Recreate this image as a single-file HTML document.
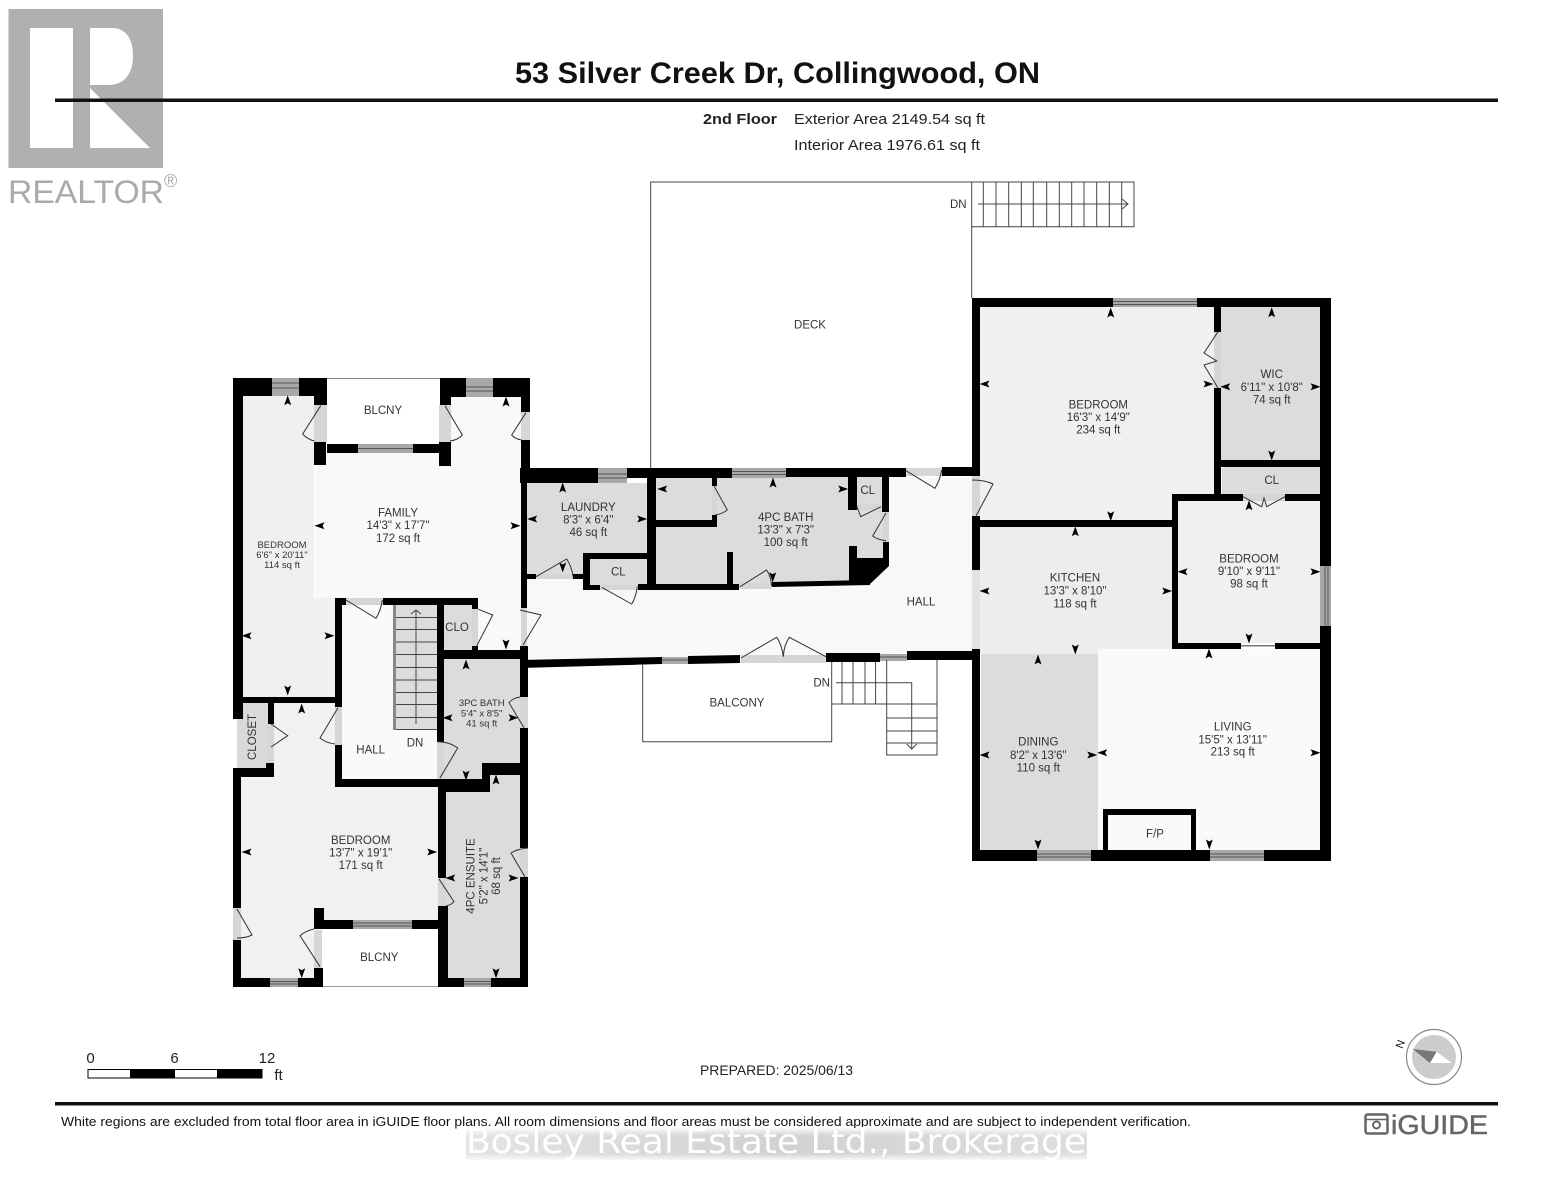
<!DOCTYPE html>
<html><head><meta charset="utf-8"><style>
html,body{margin:0;padding:0;background:#fff}
svg{display:block;filter:blur(.35px)}
text{font-family:"Liberation Sans",sans-serif}
.l text,.l{fill:#333;font-size:11.5px;text-anchor:middle}
.s text{font-size:9.5px}
.k{fill:#000}
.g{fill:#d6d6d6}
.w{fill:#a8a8a8}
.wl{stroke:#555;stroke-width:1;fill:none}
.d{fill:none;stroke:#333;stroke-width:1}
.t{fill:none;stroke:#444;stroke-width:1}
.a{fill:#000}
</style></head><body>
<svg xmlns="http://www.w3.org/2000/svg" width="1553" height="1200" viewBox="0 0 1553 1200">
<defs>
<linearGradient id="bh" x1="0" x2="1" y1="0" y2="0"><stop offset="0" stop-color="#e4e4e4"/><stop offset=".5" stop-color="#d2d2d2"/><stop offset="1" stop-color="#dedede"/></linearGradient>
<linearGradient id="bv" x1="0" x2="0" y1="0" y2="1"><stop offset="0" stop-color="#fff" stop-opacity=".9"/><stop offset=".25" stop-color="#fff" stop-opacity="0"/><stop offset=".8" stop-color="#fff" stop-opacity="0"/><stop offset="1" stop-color="#fff" stop-opacity=".8"/></linearGradient>
<path id="u" class="a" d="M0,-5.5 L3.5,4.5 L0,2.5 L-3.5,4.5 Z"/>
<path id="n" class="a" d="M0,5.5 L3.5,-4.5 L0,-2.5 L-3.5,-4.5 Z"/>
<path id="e" class="a" d="M5.5,0 L-4.5,3.5 L-2.5,0 L-4.5,-3.5 Z"/>
<path id="o" class="a" d="M-5.5,0 L4.5,3.5 L2.5,0 L4.5,-3.5 Z"/>
</defs>

<!-- REALTOR logo -->
<rect x="8.5" y="9" width="154.5" height="159" fill="#b0b0b0"/>
<rect x="30" y="28" width="43" height="120" fill="#fff"/>
<path fill="#fff" d="M90,28 H112 C128,28 133,42 133,56 C133,74 124,85 108,85 H90 Z"/>
<path fill="#fff" d="M90,88 L150,148 H90 Z"/>
<text x="8" y="203" font-size="32" fill="#aaa" textLength="156" lengthAdjust="spacingAndGlyphs">REALTOR</text>
<text x="164" y="187" font-size="18" fill="#aaa">®</text>

<!-- Header -->
<rect x="55" y="98.5" width="1443" height="3.5" fill="#111"/>
<text x="515" y="83" font-size="30" font-weight="700" fill="#111" textLength="525" lengthAdjust="spacingAndGlyphs">53 Silver Creek Dr, Collingwood, ON</text>
<text x="703" y="124" font-size="15" font-weight="700" fill="#222" textLength="74" lengthAdjust="spacingAndGlyphs">2nd Floor</text>
<text x="794" y="124" font-size="15" fill="#222" textLength="191" lengthAdjust="spacingAndGlyphs">Exterior Area 2149.54 sq ft</text>
<text x="794" y="150" font-size="15" fill="#222" textLength="186" lengthAdjust="spacingAndGlyphs">Interior Area 1976.61 sq ft</text>

<!-- Room fills -->
<polygon fill="#f0f0f0" points="243,396 314,396 314,598 335,598 335,697 243,697"/>
<polygon fill="#f9f9f9" points="327,453 440,453 440,397 521,397 521,650 478,650 478,598 315,598 315,453"/>
<rect x="342" y="605" width="95" height="174" fill="#fafafa"/>
<rect x="444" y="605" width="34" height="45" fill="#dcdcdc"/>
<rect x="442" y="658" width="78" height="121" fill="#dcdcdc"/>
<rect x="446" y="775" width="74" height="203" fill="#dcdcdc"/>
<polygon fill="#f1f1f1" points="274,703 335,703 335,787 438,787 438,920 314,920 314,978 241,978 241,777 274,777"/>
<rect x="237" y="703" width="33" height="65" fill="#d9d9d9"/>
<polygon fill="#f8f8f8" points="527,579 583,579 583,590 733,590 870,584 889,566 889,477 972,477 972,652 826,655 527,662"/>
<polygon fill="#dcdcdc" points="527,483 647,483 647,575 527,575"/>
<rect x="590" y="559" width="60" height="26" fill="#dcdcdc"/>
<polygon fill="#dcdcdc" points="656,477 883,477 883,558 849,558 849,583 656,587"/>
<rect x="980" y="307" width="234" height="213" fill="#f0f0f0"/>
<rect x="1221" y="307" width="99" height="153" fill="#dcdcdc"/>
<rect x="1222" y="467" width="98" height="27" fill="#dcdcdc"/>
<rect x="1178" y="501" width="142" height="142" fill="#f0f0f0"/>
<rect x="980" y="527" width="192" height="127" fill="#ededed"/>
<rect x="1098" y="649" width="222" height="201" fill="#fafafa"/>
<rect x="981" y="654" width="117" height="196" fill="#dcdcdc"/>

<!-- Door thresholds -->
<g class="g">
<rect x="314" y="405" width="13" height="37"/><rect x="439" y="405" width="12" height="37"/>
<rect x="521" y="412" width="9" height="28"/><rect x="346" y="598" width="37" height="7"/>
<rect x="521" y="608" width="6" height="39"/><rect x="472" y="609" width="6" height="41"/>
<rect x="268" y="724" width="6" height="39"/><rect x="335" y="707" width="7" height="38"/>
<rect x="437" y="742" width="7" height="37"/><rect x="520" y="697" width="8" height="31"/>
<rect x="520" y="848" width="8" height="29"/><rect x="438" y="878" width="8" height="28"/>
<rect x="233" y="908" width="8" height="32"/><rect x="314" y="930" width="8" height="38"/>
<rect x="536" y="574" width="37" height="5"/><rect x="600" y="585" width="38" height="5"/>
<rect x="739" y="583" width="33" height="6"/><rect x="712" y="486" width="5" height="29"/>
<rect x="857" y="504" width="25" height="6"/><rect x="883" y="512" width="6" height="30"/>
<rect x="906" y="468" width="36" height="8"/><rect x="972" y="476" width="8" height="40"/>
<rect x="972" y="570" width="8" height="80" fill="#e2e2e2"/><rect x="741" y="655" width="85" height="8"/>
<rect x="1214" y="332" width="7" height="56"/><rect x="1243" y="494" width="42" height="7"/>
</g>

<!-- Stairs west -->
<rect x="393" y="605" width="44" height="125" fill="#dcdcdc"/>
<rect x="393" y="605" width="3" height="125" fill="#888"/>
<path class="t" d="M396,617.5H437M396,629.5H437M396,642H437M396,654.5H437M396,667.5H437M396,680H437M396,692.5H437M396,704.5H437M396,717.5H437M396,729.5H437"/>
<path class="t" d="M416,610V724M411,614L416,610L421,614"/>

<!-- Walls -->
<g class="k">
<rect x="233" y="378" width="39" height="18"/><rect x="233" y="378" width="10" height="341"/>
<rect x="299" y="378" width="28" height="18"/><rect x="314" y="378" width="13" height="27"/>
<rect x="314" y="442" width="12" height="23"/><rect x="327" y="444" width="31" height="9"/>
<rect x="413" y="444" width="27" height="9"/><rect x="439" y="442" width="12" height="24"/>
<rect x="440" y="378" width="26" height="19"/><rect x="440" y="378" width="11" height="27"/>
<rect x="493" y="378" width="37" height="19"/><rect x="521" y="378" width="9" height="34"/>
<rect x="521" y="440" width="9" height="33"/><rect x="521" y="473" width="6" height="135"/>
<rect x="520" y="468" width="78" height="15"/><rect x="627" y="468" width="105" height="10"/>
<rect x="786" y="468" width="120" height="9"/><rect x="942" y="467" width="38" height="9"/>
<rect x="647" y="478" width="9" height="112"/><rect x="583" y="553" width="66" height="6"/>
<rect x="583" y="553" width="7" height="37"/><rect x="590" y="585" width="10" height="5"/>
<rect x="527" y="574" width="9" height="5"/><rect x="573" y="574" width="10" height="5"/>
<rect x="638" y="584" width="101" height="6"/><rect x="656" y="520" width="61" height="7"/>
<rect x="712" y="515" width="5" height="12"/><rect x="712" y="478" width="5" height="8"/>
<rect x="727" y="552" width="6" height="32"/>
<rect x="848" y="476" width="9" height="34"/><rect x="882" y="476" width="7" height="36"/>
<rect x="883" y="542" width="6" height="24"/><rect x="849" y="546" width="8" height="14"/>
<polygon points="849,558 883,558 889,566 870,584 849,585"/>
<polygon points="772,582 870,580 870,585 772,587"/>
<rect x="520" y="646" width="8" height="22"/><rect x="520" y="661" width="8" height="36"/>
<polygon points="520,660 662,657 662,664 520,668"/>
<polygon points="688,656 740,655 740,663 688,664"/>
<rect x="826" y="653" width="54" height="9"/><rect x="907" y="651" width="73" height="9"/>
<rect x="520" y="728" width="8" height="120"/><rect x="520" y="877" width="8" height="110"/>
<rect x="336" y="598" width="10" height="7"/><rect x="383" y="598" width="95" height="7"/>
<rect x="472" y="598" width="6" height="11"/><rect x="335" y="598" width="7" height="109"/>
<rect x="335" y="745" width="7" height="42"/><rect x="437" y="605" width="7" height="137"/>
<rect x="444" y="650" width="82" height="9"/><rect x="472" y="646" width="6" height="6"/>
<rect x="335" y="779" width="155" height="8"/><rect x="438" y="779" width="52" height="13"/>
<rect x="482" y="763" width="8" height="29"/><rect x="482" y="763" width="38" height="12"/>
<rect x="438" y="787" width="8" height="91"/><rect x="438" y="906" width="10" height="81"/>
<rect x="448" y="978" width="16" height="9"/><rect x="491" y="978" width="37" height="9"/>
<rect x="233" y="697" width="104" height="6"/><rect x="268" y="703" width="6" height="21"/>
<rect x="266" y="763" width="8" height="14"/><rect x="233" y="768" width="41" height="9"/>
<rect x="233" y="768" width="8" height="140"/><rect x="233" y="940" width="8" height="47"/>
<rect x="233" y="978" width="37" height="9"/><rect x="298" y="978" width="25" height="9"/>
<rect x="314" y="968" width="9" height="19"/><rect x="314" y="908" width="10" height="21"/>
<rect x="324" y="920" width="29" height="9"/><rect x="412" y="920" width="26" height="9"/>
<!-- east block -->
<rect x="972" y="298" width="141" height="9"/><rect x="1197" y="298" width="134" height="9"/>
<rect x="972" y="298" width="8" height="178"/><rect x="972" y="516" width="8" height="54"/>
<rect x="972" y="649" width="8" height="212"/><rect x="1320" y="298" width="11" height="268"/>
<rect x="1320" y="626" width="11" height="235"/><rect x="980" y="520" width="198" height="7"/>
<rect x="1214" y="298" width="7" height="34"/><rect x="1214" y="388" width="7" height="107"/>
<rect x="1221" y="460" width="99" height="7"/><rect x="1172" y="494" width="71" height="7"/>
<rect x="1285" y="494" width="35" height="7"/><rect x="1172" y="494" width="6" height="155"/>
<rect x="1172" y="643" width="69" height="6"/><rect x="1275" y="643" width="45" height="6"/>
<rect x="972" y="850" width="65" height="11"/><rect x="1091" y="850" width="119" height="11"/>
<rect x="1264" y="850" width="67" height="11"/>
<path d="M1103,850V809H1196V850H1191V815H1108V850Z"/>
</g>
<rect x="1108" y="815" width="83" height="35" fill="#fafafa"/>
<rect x="327" y="378" width="113" height="1" fill="#888"/>
<rect x="323" y="986" width="115" height="1" fill="#999"/>

<!-- Windows -->
<g class="w">
<rect x="272" y="378" width="27" height="18"/><rect x="466" y="378" width="27" height="19"/>
<rect x="358" y="444" width="55" height="9"/><rect x="598" y="468" width="29" height="15"/>
<rect x="732" y="468" width="54" height="10"/><rect x="1113" y="298" width="84" height="9"/>
<rect x="1320" y="566" width="11" height="60"/><rect x="1037" y="850" width="54" height="11"/>
<rect x="1210" y="850" width="54" height="11"/><rect x="270" y="978" width="28" height="9"/>
<rect x="353" y="920" width="59" height="9"/><rect x="464" y="978" width="27" height="9"/>
<rect x="662" y="657" width="26" height="7"/><rect x="880" y="654" width="27" height="7"/>
</g>
<path class="wl" d="M272,383H299M272,388H299M466,387H493M466,391H493M358,448.5H413M598,474H627M598,478H627M732,471.5H786M732,474.5H786M1113,301.5H1197M1113,304.5H1197M1325,566V626M1328,566V626M1037,854H1091M1037,857H1091M1210,854H1264M1210,857H1264M270,981.5H298M270,984H298M353,923H412M353,926H412M464,981.5H491M464,984H491M662,660H688M880,657H907"/>
<rect x="1241" y="645" width="34" height="1.5" fill="#777"/>

<!-- Doors -->
<path class="d" d="M320.7,405.7L302.7,434Q307,439 314.3,441"/>
<path class="d" d="M445,405.7L462.3,435Q458,440 450,441"/>
<path class="d" d="M526,412.7L511.7,435Q515,439 521.7,440"/>
<path class="d" d="M346,600L376,618.3Q381,610 382.3,600"/>
<path class="d" d="M478.3,609.3L492.7,615L476.7,646"/>
<path class="d" d="M520,610L541,615L523,645"/>
<path class="d" d="M271,724L287.7,735.7L271,747"/>
<path class="d" d="M338,707.7L320,738Q326,743 335,744"/>
<path class="d" d="M438,741.7Q450,742 457.7,748L440,778"/>
<path class="d" d="M520,697Q513,698 509,702.7L524,727.7"/>
<path class="d" d="M528,848Q517,849 511,853L525,877"/>
<path class="d" d="M439,879L454,901.7Q451,905 446,906"/>
<path class="d" d="M237,909L252,935Q246,938 237,938"/>
<path class="d" d="M320,966.7L300,935.7Q305,931 314,929"/>
<path class="d" d="M536,576.7L566.7,559Q572,567 573,576.7"/>
<path class="d" d="M601.7,587.3L631.7,604Q636,597 637.3,586.7"/>
<path class="d" d="M714,486L727.3,510Q722,514 715,515"/>
<path class="d" d="M740,586.7L766.7,570Q771,577 771.7,586"/>
<path class="d" d="M856.7,506L860.7,516.7L881,506.7"/>
<path class="d" d="M886,513L872.7,536Q878,540 886,540.7"/>
<path class="d" d="M906,470.7L935,488.3Q940,480 941.7,470"/>
<path class="d" d="M972,480Q985,480 993,484L976,516"/>
<path class="d" d="M741,658L776.7,637.3Q782,645 783.3,656.7Q784,645 789.3,637.3L826,656.7"/>
<path class="d" d="M1218,331.7L1204,353L1216.7,361L1204,365L1218,388"/>
<path class="d" d="M1243,496.7L1261.7,506.7L1264,498L1266.7,506.7L1285,496.7"/>

<!-- Exterior outlines -->
<path class="t" d="M650.7,468V182H1134V226.7H971.7M971.7,182V298"/>
<path class="t" d="M983.3,182V226.7M996,182V226.7M1008.7,182V226.7M1021.3,182V226.7M1033.3,182V226.7M1046.7,182V226.7M1059.3,182V226.7M1071.7,182V226.7M1084,182V226.7M1096.7,182V226.7M1109.3,182V226.7M1121.7,182V226.7"/>
<path class="t" d="M978,204H1128M1122,199L1128,204L1122,209"/>
<path class="t" d="M642.7,664V741.7H831.7V662"/>
<path class="t" d="M831.7,704H937M937,660V755H886.7V660"/>
<path class="t" d="M842,662V704M853,662V704M865,662V704M875.6,662V704"/>
<path class="t" d="M886.7,718H937M886.7,731H937M886.7,743H937"/>
<path class="t" d="M836,682.7H911.7V748M906.7,744L911.7,749L916.7,744"/>

<!-- Dimension arrows -->
<use href="#u" x="287.7" y="400.7"/><use href="#u" x="506" y="402"/><use href="#n" x="506" y="644"/>
<use href="#o" x="320" y="525.7"/><use href="#e" x="515" y="525.7"/><use href="#o" x="247" y="635.7"/>
<use href="#e" x="329" y="635.7"/><use href="#n" x="287.7" y="690"/><use href="#u" x="466" y="665"/>
<use href="#u" x="301.7" y="709"/><use href="#o" x="448" y="717.7"/><use href="#e" x="513" y="717.7"/>
<use href="#n" x="466" y="775"/><use href="#u" x="496" y="780"/><use href="#o" x="247" y="852"/>
<use href="#e" x="431.7" y="852"/><use href="#o" x="450.7" y="878"/><use href="#e" x="513" y="878"/>
<use href="#n" x="301.7" y="972.7"/><use href="#n" x="496" y="972.7"/>
<use href="#u" x="562.7" y="488"/><use href="#o" x="532.7" y="519"/><use href="#e" x="641.7" y="519"/>
<use href="#o" x="662.7" y="489"/><use href="#u" x="773" y="483"/><use href="#e" x="842.7" y="489"/>
<use href="#n" x="562.7" y="567"/><use href="#n" x="772.7" y="576.7"/>
<use href="#u" x="1110.7" y="313"/><use href="#o" x="985" y="384"/><use href="#e" x="1208" y="384"/>
<use href="#o" x="1225.7" y="386.7"/><use href="#e" x="1315" y="386.7"/><use href="#u" x="1271.7" y="312.7"/>
<use href="#n" x="1271.7" y="455"/><use href="#n" x="1110.7" y="515.7"/><use href="#u" x="1075.3" y="531.7"/>
<use href="#o" x="985" y="591"/><use href="#e" x="1166.7" y="591"/><use href="#n" x="1075.3" y="649"/>
<use href="#u" x="1249" y="505.7"/><use href="#o" x="1183" y="571.7"/><use href="#e" x="1315" y="571.7"/>
<use href="#n" x="1249" y="638"/><use href="#u" x="1038" y="660"/><use href="#u" x="1209" y="654"/>
<use href="#o" x="985" y="755"/><use href="#e" x="1091.7" y="755"/><use href="#o" x="1102.7" y="752.7"/>
<use href="#e" x="1315" y="752.7"/><use href="#n" x="1038" y="844"/><use href="#n" x="1209.3" y="844"/>

<!-- Room labels -->
<g class="l">
<text x="398" y="516.5">FAMILY</text><text x="398" y="529">14'3" x 17'7"</text><text x="398" y="542">172 sq ft</text>
<text x="383" y="414">BLCNY</text><text x="457" y="631">CLO</text>
<text x="370.7" y="753.5">HALL</text><text x="415" y="746.5">DN</text>
<text x="360.7" y="844">BEDROOM</text><text x="360.7" y="856.5">13'7" x 19'1"</text><text x="360.7" y="869">171 sq ft</text>
<text x="379.3" y="961">BLCNY</text>
<text transform="translate(256,737) rotate(-90)">CLOSET</text>
<text transform="translate(474.7,876) rotate(-90)">4PC ENSUITE</text>
<text transform="translate(487.3,876) rotate(-90)">5'2" x 14'1"</text>
<text transform="translate(500,876) rotate(-90)">68 sq ft</text>
<text x="588.3" y="511">LAUNDRY</text><text x="588.3" y="523.3">8'3" x 6'4"</text><text x="588.3" y="536">46 sq ft</text>
<text x="618.3" y="575.7">CL</text>
<text x="785.7" y="521">4PC BATH</text><text x="785.7" y="533.3">13'3" x 7'3"</text><text x="785.7" y="546">100 sq ft</text>
<text x="867.7" y="494">CL</text><text x="921" y="605.7">HALL</text>
<text x="737" y="706.3">BALCONY</text><text x="821.7" y="686.7">DN</text>
<text x="810" y="328.5">DECK</text><text x="958.3" y="208">DN</text>
<text x="1098.3" y="408.5">BEDROOM</text><text x="1098.3" y="421">16'3" x 14'9"</text><text x="1098.3" y="433.5">234 sq ft</text>
<text x="1271.7" y="378">WIC</text><text x="1271.7" y="391">6'11" x 10'8"</text><text x="1271.7" y="403.7">74 sq ft</text>
<text x="1271.7" y="484">CL</text>
<text x="1075" y="581.7">KITCHEN</text><text x="1075" y="594.7">13'3" x 8'10"</text><text x="1075" y="607.7">118 sq ft</text>
<text x="1249" y="562.3">BEDROOM</text><text x="1249" y="575">9'10" x 9'11"</text><text x="1249" y="587.7">98 sq ft</text>
<text x="1038.3" y="745.7">DINING</text><text x="1038.3" y="759">8'2" x 13'6"</text><text x="1038.3" y="771.7">110 sq ft</text>
<text x="1232.7" y="730.7">LIVING</text><text x="1232.7" y="743.3">15'5" x 13'11"</text><text x="1232.7" y="755.7">213 sq ft</text>
<text x="1155" y="837.3">F/P</text>
</g>
<g class="l s">
<text x="282" y="548">BEDROOM</text><text x="282" y="558">6'6" x 20'11"</text><text x="282" y="568">114 sq ft</text>
<text x="481.7" y="706">3PC BATH</text><text x="481.7" y="716.5">5'4" x 8'5"</text><text x="481.7" y="726.5">41 sq ft</text>
</g>

<!-- Scale -->
<rect x="88" y="1069.5" width="174" height="8.5" fill="#fff" stroke="#000" stroke-width="1"/>
<rect x="130" y="1069.5" width="45" height="8.5" fill="#000"/><rect x="217" y="1069.5" width="45" height="8.5" fill="#000"/>
<g fill="#222" font-size="15" text-anchor="middle">
<text x="90.5" y="1063">0</text><text x="174.5" y="1063">6</text><text x="267" y="1063">12</text><text x="278.5" y="1080">ft</text>
</g>
<text x="700" y="1075" font-size="14" fill="#222" textLength="153" lengthAdjust="spacingAndGlyphs">PREPARED: 2025/06/13</text>

<!-- Compass -->
<circle cx="1434" cy="1057" r="27.5" fill="#fff" stroke="#888" stroke-width="1.2"/>
<circle cx="1434" cy="1057" r="22" fill="#ccc"/>
<polygon points="1412.7,1049 1436.7,1051.7 1430,1063" fill="#777"/>
<polygon points="1436.7,1051.7 1451.7,1063 1430,1063" fill="#fff"/>
<text transform="translate(1400,1044) rotate(-70)" font-size="11" fill="#111" text-anchor="middle" y="4">N</text>

<!-- Footer -->
<rect x="55" y="1102" width="1443" height="3.5" fill="#111"/>
<text x="61" y="1126" font-size="13" fill="#111" textLength="1130" lengthAdjust="spacingAndGlyphs">White regions are excluded from total floor area in iGUIDE floor plans. All room dimensions and floor areas must be considered approximate and are subject to independent verification.</text>
<rect x="466" y="1128" width="621" height="32" fill="url(#bh)"/>
<rect x="466" y="1128" width="621" height="32" fill="url(#bv)"/>
<text x="466" y="1153" font-size="34" fill="#fff" style="font-family:'DejaVu Sans',sans-serif" textLength="620" lengthAdjust="spacingAndGlyphs">Bosley Real Estate Ltd., Brokerage</text>

<!-- iGUIDE -->
<rect x="1365.5" y="1114.5" width="22" height="19" rx="2" fill="none" stroke="#666" stroke-width="2.5"/>
<circle cx="1376.5" cy="1125" r="3.5" fill="none" stroke="#666" stroke-width="2"/>
<path d="M1366,1119.5H1387" stroke="#666" stroke-width="1.5"/>
<text x="1391" y="1134" font-size="27" fill="#666" stroke="#666" stroke-width=".5" textLength="97" lengthAdjust="spacingAndGlyphs">iGUIDE</text>
</svg>
</body></html>
